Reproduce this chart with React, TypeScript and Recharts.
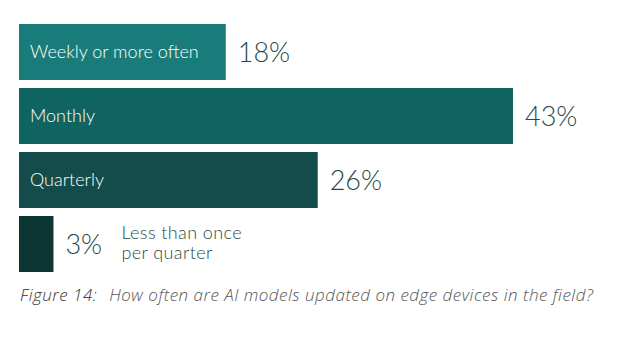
import React from "react";
import { BarChart, Bar, XAxis, YAxis, Cell, LabelList, Customized } from "recharts";

const categories = ["Weekly or more often", "Monthly", "Quarterly", "Less than once per quarter"];
const categoryLines = [["Weekly or more often"], ["Monthly"], ["Quarterly"], ["Less than once", "per quarter"]];
const values = [18, 43, 26, 3];
const valueLabels = ["18%", "43%", "26%", "3%"];
const barColors = ["#1a7c7a", "#0f6462", "#134c4a", "#0a3532"];
const captionLead = "Figure 14:";
const captionText = "How often are AI models updated on edge devices in the field?";

const data = categories.map((name, i) => ({ name, value: values[i] }));

const FONT = "Lato, 'Open Sans', sans-serif";
const CAPTION_FONT = "'Open Sans', Lato, sans-serif";
const TEXT_DARK = "#1f4b49";

const BarLabel = (props: any) => {
  const { x, y, width, height, index } = props;
  const cx = Number(x);
  const cy = Number(y) + Number(height) / 2;
  const w = Number(width);
  const inside = w > 100;
  const valueX = cx + w + 12;
  const lines = categoryLines[index];
  return (
    <g>
      {inside ? (
        <text x={cx + 11} y={cy + 6} fill="#ffffff" fontSize={18} fontWeight={300} fontFamily={FONT}>
          {lines[0]}
        </text>
      ) : null}
      <text x={valueX} y={cy + 10} fill={TEXT_DARK} fontSize={27} fontWeight={300} fontFamily={FONT}>
        {valueLabels[index]}
      </text>
      {!inside ? (
        <text x={valueX + 56} y={cy - 5} fill={TEXT_DARK} fontSize={18} fontWeight={300} fontFamily={FONT} letterSpacing={0.4}>
          {lines.map((l: string, k: number) => (
            <tspan key={k} x={valueX + 56} dy={k === 0 ? 0 : 20}>
              {l}
            </tspan>
          ))}
        </text>
      ) : null}
    </g>
  );
};

const Caption = () => (
  <text x={12} y={293} fontSize={17} fontStyle="italic" fontWeight={300} fontFamily={CAPTION_FONT} letterSpacing={0.5}>
    <tspan fill="#333333">{captionLead}</tspan>
    <tspan fill="#555555" dx={12}>{captionText}</tspan>
  </text>
);

export default function App() {
  return (
    <BarChart
      width={632}
      height={322}
      data={data}
      layout="vertical"
      margin={{ top: 12, right: 127, bottom: 54, left: 11 }}
      barCategoryGap={4}
    >
      <XAxis type="number" hide domain={[0, 43]} />
      <YAxis type="category" dataKey="name" hide />
      <Bar dataKey="value" isAnimationActive={false}>
        {data.map((d, i) => (
          <Cell key={d.name} fill={barColors[i]} />
        ))}
        <LabelList dataKey="value" content={<BarLabel />} />
      </Bar>
      <Customized component={Caption} />
    </BarChart>
  );
}
